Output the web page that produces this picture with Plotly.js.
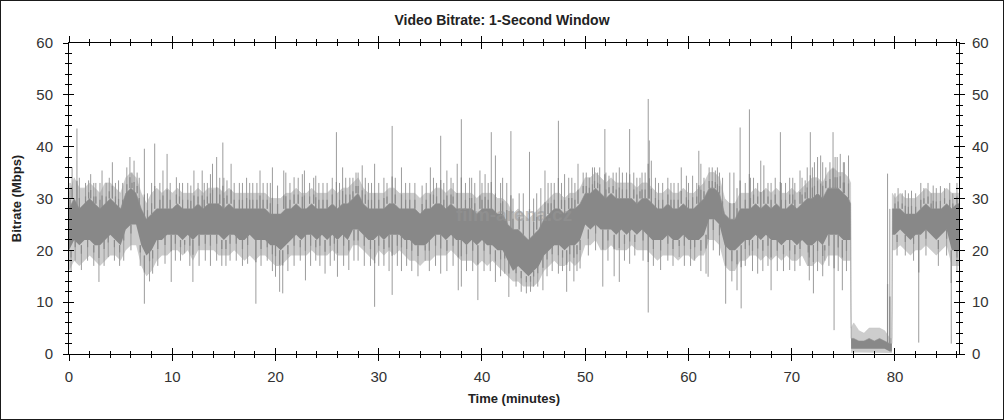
<!DOCTYPE html>
<html><head><meta charset="utf-8">
<script src="https://cdn.plot.ly/plotly-3.0.1.min.js"></script>
<style>
html,body{margin:0;padding:0;background:#fff;}
#wrap{position:relative;width:1004px;height:420px;overflow:hidden;}
#chart{width:1004px;height:420px;}
#frame{position:absolute;left:0;top:0;width:1002px;height:418px;border:1px solid #1a1a1a;pointer-events:none;}
</style></head><body>
<div id="wrap"><div id="chart"></div><div id="frame"></div></div>
<script>
// ---- data (minutes, Mbps) ----
var bandT = [0,0.5,1,1.5,2,2.5,3,3.5,4,4.5,5,5.5,6,6.5,7,7.5,8,8.5,9,9.5,10,10.5,11,11.5,12,12.5,13,13.5,14,14.5,15,15.5,16,16.5,17,17.5,18,18.5,19,19.5,20,20.5,21,21.5,22,22.5,23,23.5,24,24.5,25,25.5,26,26.5,27,27.5,28,28.5,29,29.5,30,30.5,31,31.5,32,32.5,33,33.5,34,34.5,35,35.5,36,36.5,37,37.5,38,38.5,39,39.5,40,40.5,41,41.5,42,42.5,43,43.5,44,44.5,45,45.5,46,46.5,47,47.5,48,48.5,49,49.5,50,50.5,51,51.5,52,52.5,53,53.5,54,54.5,55,55.5,56,56.5,57,57.5,58,58.5,59,59.5,60,60.5,61,61.5,62,62.5,63,63.5,64,64.5,65,65.5,66,66.5,67,67.5,68,68.5,69,69.5,70,70.5,71,71.5,72,72.5,73,73.5,74,74.5,75,75.5,75.7,75.75,76,76.5,77,77.5,78,78.5,79,79.5,79.7,79.75,80,80.5,81,81.5,82,82.5,83,83.5,84,84.5,85,85.5,86,86.2];
var coreLo = [20,22,21,22,22,21,21,22,23,22,21,24,25,25,21,19,20,22,22,23,23,23,22,23,22,23,23,23,23,23,22,23,23,22,22,23,22,22,22,21,21,20,21,22,23,22,23,23,22,23,22,23,22,23,22,24,24,23,22,22,23,22,23,23,23,22,22,21,21,21,22,23,23,22,23,22,22,21,22,21,22,21,21,20,20,18,16,17,16,15,16,17,19,20,21,21,20,21,21,22,25,24,25,24,24,24,23,24,23,24,23,24,23,22,22,22,23,22,22,23,22,22,22,23,26,26,25,21,20,20,21,22,22,23,22,23,22,22,21,22,22,21,22,21,21,22,21,23,23,23,22,22,22,1,1,1,1,1,1,1,1,0.5,0.5,23,23,24,23,22,23,23,24,23,22,23,24,20,20,20];
var coreHi = [28,30,28,29,30,29,28,29,30,29,28,31,32,31,28,26,27,28,28,28,28,29,28,28,28,29,28,29,29,29,28,29,28,28,28,28,28,28,28,27,27,27,28,28,29,28,28,29,28,28,28,29,28,29,29,30,31,29,28,28,28,28,29,29,28,28,28,28,27,28,28,29,29,28,29,28,28,28,28,27,28,28,28,27,27,25,24,24,23,22,23,24,26,27,28,28,27,28,28,29,31,31,32,31,30,31,30,30,30,30,29,30,30,29,28,28,29,28,28,29,28,28,29,30,32,32,31,27,26,26,28,28,28,29,28,29,28,29,28,28,29,28,29,30,30,31,30,32,32,32,31,30,29,3,3,2.5,2.5,3,2.5,3,2.5,2,2,28,28,28,27,27,27,28,29,28,28,28,29,28,29,29];
var outLo = [16,18,17,18,19,18,17,18,19,19,18,20,21,21,17,15,16,18,19,19,20,20,19,20,18,20,20,20,20,19,19,19,20,19,18,19,18,19,19,18,17,17,18,19,19,19,19,20,19,19,19,20,19,19,19,21,21,20,19,18,20,19,20,19,20,19,18,18,17,18,18,19,19,19,20,19,18,18,18,17,18,17,18,17,16,15,14,14,13,13,13,14,16,17,18,17,17,18,17,18,21,21,22,20,20,21,20,20,20,21,20,20,20,19,18,19,19,19,18,19,19,18,19,19,22,22,21,17,16,16,18,18,19,19,18,19,18,19,18,19,18,18,19,17,17,18,17,19,19,19,18,18,18,0.2,0.3,0.3,0.3,0.3,0.2,0.3,0.3,0.2,0.2,20,20,21,20,19,20,20,21,20,19,20,21,17,17,17];
var outHi = [31,34,32,32,33,32,31,33,33,32,31,34,35,34,31,29,31,32,31,32,31,32,31,31,31,32,31,32,32,32,31,32,31,31,31,31,31,31,31,30,30,30,31,31,32,31,31,32,31,31,31,32,31,32,32,33,34,32,31,31,31,31,32,32,31,31,31,31,30,31,31,32,32,31,32,31,31,31,31,30,31,31,31,30,30,29,27,28,27,26,27,28,29,30,31,31,30,31,31,32,34,34,35,34,33,34,33,33,33,33,32,33,33,32,31,31,32,31,31,32,31,31,32,33,35,35,34,30,29,29,31,31,31,32,31,32,31,32,31,31,32,31,32,33,34,34,33,35,36,35,35,34,33,5,6,4.5,4,5,5,5,4.5,3,3,31,30,31,30,30,30,31,32,31,31,31,32,31,31,31];

var upT = [0.1,0.3,0.77,1.0,1.6,1.9,2.1,2.4,2.6,3.0,3.2,3.6,3.9,4.2,4.5,4.8,5.2,5.6,5.9,6.1,6.3,6.6,6.8,7.3,7.6,8.0,8.3,8.8,9.1,9.5,9.8,10.4,10.7,11.0,11.5,11.8,12.1,12.5,12.9,13.1,13.4,13.7,13.9,14.3,14.6,14.9,15.0,15.3,15.7,16.0,16.5,16.8,17.2,17.5,17.8,18.2,18.5,18.8,19.2,19.5,19.7,20.2,20.8,21.0,21.4,21.8,22.2,22.6,22.8,23.3,23.7,23.9,24.2,24.6,25.0,25.5,25.9,26.2,26.5,26.8,27.2,27.5,27.8,28.0,28.4,28.7,29.0,29.3,29.6,30.0,30.5,30.8,31.3,31.6,32.2,32.6,33.0,33.5,34.2,34.6,35.0,35.3,35.6,36.0,36.3,36.6,37.0,37.2,37.6,38.0,38.4,38.8,39.0,39.3,39.8,40.0,40.3,40.6,40.9,41.3,41.8,42.0,42.4,42.8,43.0,43.6,44.0,44.6,45.0,45.3,45.7,46.1,46.4,46.7,47.0,47.4,47.7,48.0,48.4,48.7,49.0,49.3,49.8,50.1,50.4,50.7,50.9,51.2,51.4,51.9,52.0,52.3,52.7,53.0,53.3,53.6,54.0,54.3,54.7,55.0,55.3,55.5,55.8,56.1,56.2,56.4,56.8,57.1,57.5,58.0,58.3,58.6,59.0,59.3,59.8,60.0,60.4,60.8,61.0,61.2,61.5,62.0,62.3,62.6,62.8,63.0,63.3,64.0,64.4,64.7,65.0,65.5,65.9,66.0,66.3,66.7,67.0,67.3,67.7,68.0,68.4,68.9,69.0,69.4,69.8,70.1,70.3,70.8,71.0,71.3,71.5,71.8,72.0,72.2,72.5,72.8,73.0,73.3,73.7,74.0,74.2,74.4,74.7,75.0,75.1,75.5,79.28,79.5,80.0,80.3,80.7,81.0,81.3,81.6,82.0,82.5,82.8,83.2,83.5,83.7,84.0,84.4,84.8,85.3,85.6,86.0];
var upV = [33,36,43.5,34,33,33.5,34.7,33,33,33,35.4,33,34,37,33,33.5,33,36,38,35,37.3,35,34,39.6,31,33,40.6,33,35.4,38.6,33,34.1,33,33,33,32.5,35.4,33,35.4,33,33,34.7,36.7,38,34,40.8,34,33.5,36.7,33,33,33,34,33,33,33,35.4,33,33,33,36,32.5,35.4,35,33,34.1,34,34.7,35.4,33,34,34.4,33,33,33,34,42.8,33,36,34,34,34,35,35,36.4,34,33,33,36.7,33,34,33,44,34,36,33,33,33,32.5,33,36,34,33,42.1,33,35.4,34,33,36.7,45.3,33,34,34,33,35.4,33,34.7,33,42.8,38.3,33,34,33,43,30,31,31,39,30,31,32,35.4,33,33,33,45,33,34.7,34,34,33,36.7,35,35,34,36,36,35,36,43.4,35,34.4,35,35,36,35,35,43.4,35,34,34,35,35,49.2,41.2,37.3,34,33,33,34,33,33,33,36,34.4,33,34.4,33,39.2,36.7,34,36,36,35.4,36,35,34,35,35,32,43.7,33,47.2,34,34,33,37.3,36.4,33,33,34,42.8,33,33,34,34,33,35.4,34,33.5,36,42.8,36,37,38,38.3,37,36,37,42.8,38,38,38.6,37,37,38.3,34.8,28,31,32,31,31.6,31,31.5,31,33,32,33,31,32.5,32,32.4,32,33,31,33];
var downT = [0.2,0.6,1.2,1.8,2.4,2.9,3.4,3.8,4.4,4.9,5.3,6.0,6.9,7.3,7.8,8.1,8.6,9.3,9.9,10.3,10.8,11.2,11.7,12.0,12.6,13.2,13.7,14.3,14.8,15.2,15.6,16.2,16.8,17.3,18.1,18.6,19.2,19.7,20.0,20.4,20.7,21.2,21.8,22.4,22.9,23.4,23.9,24.3,24.8,25.3,25.7,26.0,26.6,27.1,27.6,28.0,28.6,29.2,29.6,30.0,30.5,31.0,31.3,31.8,32.2,32.7,33.2,33.8,34.5,34.9,35.5,36.0,36.6,37.2,37.7,38.0,38.5,39.1,39.6,40.2,40.8,41.3,41.8,42.2,42.6,43.3,43.8,44.3,44.7,45.0,45.4,45.9,46.3,46.8,47.4,47.8,48.2,48.5,48.9,49.2,49.5,50.3,51.0,51.7,52.2,52.8,53.3,53.8,54.3,54.8,55.6,56.1,56.6,57.3,58.0,58.5,59.1,59.6,60.2,60.6,61.2,61.7,61.9,62.4,63.0,63.6,64.2,64.7,65.1,65.5,65.9,66.2,66.7,67.2,67.7,68.0,68.6,69.2,69.8,70.3,70.8,71.6,71.7,72.1,72.5,73.0,73.2,73.6,74.1,74.5,74.9,75.3,80.2,81.0,81.8,82.3,83.0,84.2,85.0,85.45,86.0];
var downV = [16,18,16.2,18,17,13.9,17,18.7,18,17,18,20,17,9.7,14,15.5,17,17.4,13.9,18,18,19.4,17,13.9,17,18,17,18,17,17,18,18,17,17.4,9.7,17,18,16,14.9,12,11.7,16,17,18,14.2,17,18,17,15.5,17,18,14.9,17,16.2,18,18,17,17,9.1,17,17,16,11.4,17,16,17,16,15,18,16,17,15.5,16,17,12.3,13,16,16,10.4,16,16,13.9,15,15.5,11,13,12,11.7,12,13,13,12.3,15,16,15.5,16,12,16,14,16,16.5,19,20,13,18,15,13.9,18,17.4,19,18,8,17,16.2,18,17,18.7,17,17,18,16,15.5,14.9,20,19,9.7,14,12.3,8.8,17,19,16,15.5,16,17,12.3,16,16,16.2,16,17,17,14.2,11.7,16,15,18,17,4.6,16,12.3,16,19,19,18,2.2,19,17,19,2.0,16];

var xTicks = [0,10,20,30,40,50,60,70,80];
var yTicks = [0,10,20,30,40,50,60];

// ---- build traces ----
function nearest(t){var b=0;for(var i=1;i<bandT.length;i++){if(Math.abs(bandT[i]-t)<Math.abs(bandT[b]-t))b=i;}return b;}
var sx=[],sy=[],dx=[],dy=[];
function addSpike(t,base,v){sx.push(t,t,null);sy.push(base,v,null);dx.push(t,t,null);dy.push(base,base+(v-base)*0.35,null);}
upT.forEach(function(t,i){addSpike(t,coreHi[nearest(t)],upV[i]);});
downT.forEach(function(t,i){addSpike(t,coreLo[nearest(t)],downV[i]);});

var FONT='"Liberation Sans", Arial, sans-serif';
var traces=[
 {x:bandT,y:outLo,mode:'lines',line:{width:0,color:'#cccccc'},hoverinfo:'skip'},
 {x:bandT,y:outHi,mode:'lines',fill:'tonexty',fillcolor:'#cdcdcd',line:{width:0.6,color:'#c4c4c4'},hoverinfo:'skip'},
 {x:sx,y:sy,mode:'lines',line:{width:1,color:'#9c9c9c'},connectgaps:false,hoverinfo:'skip'},
 {x:bandT,y:coreLo,mode:'lines',line:{width:0,color:'#888888'},hoverinfo:'skip'},
 {x:bandT,y:coreHi,mode:'lines',fill:'tonexty',fillcolor:'#888888',line:{width:0.6,color:'#8e8e8e'},hoverinfo:'skip'},
 {x:dx,y:dy,mode:'lines',line:{width:1.2,color:'#8a8a8a'},connectgaps:false,hoverinfo:'skip'},
 {x:[],y:[],xaxis:'x2',yaxis:'y2',mode:'lines',hoverinfo:'skip'}
];
var tickFont={family:FONT,size:15,color:'#333'};
var layout={
 width:1004,height:420,
 margin:{l:69,r:45,t:43,b:66},
 paper_bgcolor:'#fff',plot_bgcolor:'#fff',showlegend:false,
 title:{text:'<b>Video Bitrate: 1-Second Window</b>',x:0.5,xref:'container',xanchor:'center',y:1-20/420,yref:'container',yanchor:'middle',font:{family:FONT,size:14,color:'#222'}},
 xaxis:{range:[0,86.2],tickvals:xTicks,ticktext:xTicks.map(String),ticks:'outside',ticklen:6,tickwidth:1,tickcolor:'#000',showline:true,linecolor:'#000',linewidth:1,mirror:'allticks',showgrid:false,zeroline:false,tickfont:tickFont,ticklabelstandoff:3,
   minor:{dtick:2,tick0:0,ticks:'outside',ticklen:3,tickcolor:'#000',showgrid:false},
   title:{text:'<b>Time (minutes)</b>',font:{family:FONT,size:13,color:'#222'},standoff:9}},
 xaxis2:{overlaying:'x',matches:'x',range:[0,86.2],tickvals:xTicks,ticks:'inside',ticklen:6,tickcolor:'#000',mirror:'allticks',showticklabels:false,showline:false,showgrid:false,zeroline:false,
   minor:{dtick:2,tick0:0,ticks:'inside',ticklen:3,tickcolor:'#000',showgrid:false}},
 yaxis:{range:[0,60],tickvals:yTicks,ticktext:yTicks.map(String),ticks:'outside',ticklen:5,tickwidth:1,tickcolor:'#000',showline:true,linecolor:'#000',linewidth:1,mirror:'allticks',showgrid:false,zeroline:false,tickfont:tickFont,ticklabelstandoff:7,
   minor:{dtick:2,tick0:0,ticks:'outside',ticklen:3,tickcolor:'#000',showgrid:false},
   title:{text:'<b>Bitrate (Mbps)</b>',font:{family:FONT,size:13,color:'#222'},standoff:11}},
 yaxis2:{overlaying:'y',side:'right',range:[0,60],tickvals:yTicks,ticktext:yTicks.map(String),ticks:'inside',ticklen:5,tickcolor:'#000',mirror:'allticks',showticklabels:true,tickfont:tickFont,ticklabelstandoff:12,showline:false,showgrid:false,zeroline:false,
   minor:{dtick:2,tick0:0,ticks:'inside',ticklen:3,tickcolor:'#000',showgrid:false}},
 annotations:[{text:'<b>film-arena.cz</b>',xref:'paper',yref:'paper',x:0.5,y:0.447,showarrow:false,font:{family:FONT,size:19,color:'rgba(150,150,150,0.55)'}}]
};
Plotly.newPlot('chart',traces,layout,{displayModeBar:false,staticPlot:true});
</script>
</body></html>
